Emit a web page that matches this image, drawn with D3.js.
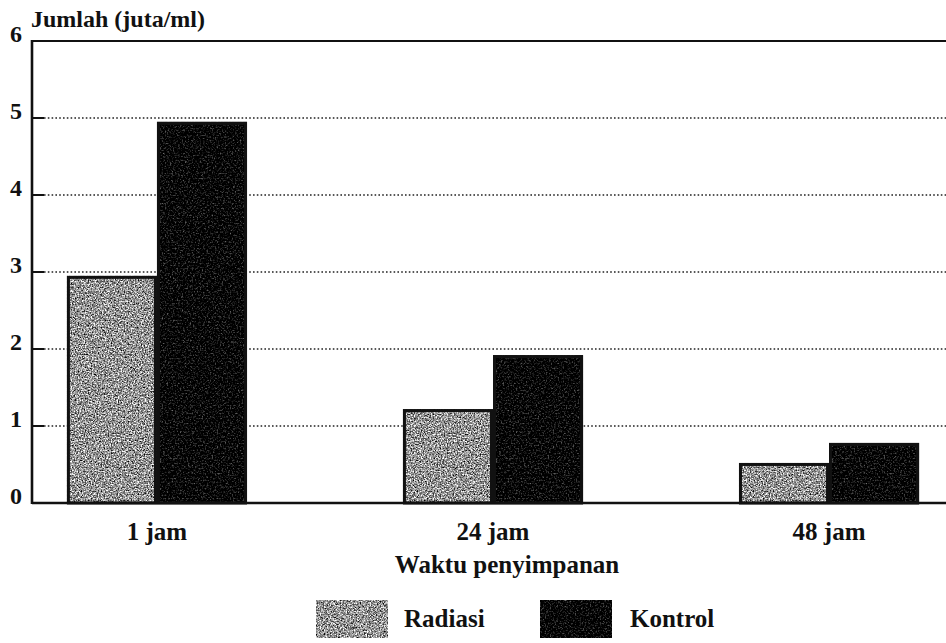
<!DOCTYPE html>
<html>
<head>
<meta charset="utf-8">
<script src="https://cdn.jsdelivr.net/npm/d3@7"></script>
<style>
  body { margin: 0; background: #fff; }
  svg text { font-family: "Liberation Serif", "Times New Roman", serif; fill: #111; }
</style>
</head>
<body>
<svg id="chart" width="946" height="643"></svg>
<script>
const categories = ['1 jam', '24 jam', '48 jam'];
const seriesNames = ['Radiasi', 'Kontrol'];
const radiasi = [2.95, 1.22, 0.52];
const kontrol = [4.95, 1.92, 0.78];
const yTicks = [0, 1, 2, 3, 4, 5, 6];

const margin = {left: 32, right: 0, top: 41, bottom: 140};
const width = 946, height = 643;

const svg = d3.select('#chart');

// grainy fills to look like the scanned print
const defs = svg.append('defs');
function grain(id, slope, intercept, freq) {
    const f = defs.append('filter').attr('id', id)
        .attr('x', 0).attr('y', 0).attr('width', 1).attr('height', 1)
        .attr('color-interpolation-filters', 'sRGB');
    f.append('feTurbulence').attr('type', 'fractalNoise')
        .attr('baseFrequency', freq).attr('numOctaves', 3).attr('seed', 4).attr('result', 'noise');
    f.append('feColorMatrix').attr('in', 'noise').attr('type', 'saturate').attr('values', 0).attr('result', 'gray');
    const ct = f.append('feComponentTransfer').attr('in', 'gray').attr('result', 'tone');
    ['feFuncR', 'feFuncG', 'feFuncB'].forEach(fn =>
        ct.append(fn).attr('type', 'linear').attr('slope', slope).attr('intercept', intercept));
    ct.append('feFuncA').attr('type', 'table').attr('tableValues', '1 1');
    f.append('feComposite').attr('in', 'tone').attr('in2', 'SourceGraphic').attr('operator', 'in');
}
grain('grainLight', 2.4, -0.62, 0.7);
grain('grainDark', 1.4, -0.7, 0.6);

const fills = {Radiasi: 'url(#grainLight)', Kontrol: 'url(#grainDark)'};

const x = d3.scaleBand()
    .domain(categories)
    .range([margin.left + 4, width + 4])
    .paddingInner(0.464)
    .paddingOuter(0.092);

const xSub = d3.scaleBand()
    .domain(seriesNames)
    .range([0, x.bandwidth()]);

const y = d3.scaleLinear()
    .domain([0, 6])
    .range([height - margin.bottom, margin.top]);

// dotted grid lines
svg.selectAll('.grid')
    .data(yTicks.filter(d => d > 0 && d < 6))
    .join('line')
        .classed('grid', true)
        .attr('x1', margin.left + 12)
        .attr('x2', width)
        .attr('y1', d => y(d))
        .attr('y2', d => y(d))
        .style('stroke', '#222')
        .style('stroke-width', 1.6)
        .style('stroke-dasharray', '1.6,2.2');

// short solid tick stubs
svg.selectAll('.stub')
    .data(yTicks.filter(d => d > 0 && d < 6))
    .join('line')
        .classed('stub', true)
        .attr('x1', margin.left)
        .attr('x2', margin.left + 12)
        .attr('y1', d => y(d))
        .attr('y2', d => y(d))
        .style('stroke', '#111')
        .style('stroke-width', 2);

// bars
const rows = categories.map((c, i) => ({cat: c, Radiasi: radiasi[i], Kontrol: kontrol[i]}));

const groups = svg.selectAll('.barGroup')
    .data(rows)
    .join('g')
        .classed('barGroup', true)
        .attr('transform', d => `translate(${x(d.cat)},0)`);

const bars = groups.selectAll('.bar')
    .data(d => seriesNames.map(s => ({series: s, value: d[s]})))
    .join('g')
        .classed('bar', true);

bars.append('rect')
    .attr('x', d => xSub(d.series))
    .attr('y', d => y(d.value))
    .attr('width', xSub.bandwidth())
    .attr('height', d => y(0) - y(d.value))
    .style('fill', '#000')
    .attr('filter', d => fills[d.series]);

bars.append('rect')
    .attr('x', d => xSub(d.series) + 1.5)
    .attr('y', d => y(d.value) + 1.5)
    .attr('width', xSub.bandwidth() - 3)
    .attr('height', d => y(0) - y(d.value) - 1.5)
    .style('fill', 'none')
    .style('stroke', '#111')
    .style('stroke-width', 3);

// axis frame
svg.append('line')
    .attr('x1', margin.left).attr('x2', width)
    .attr('y1', y(6)).attr('y2', y(6))
    .style('stroke', '#111').style('stroke-width', 2.2);
svg.append('line')
    .attr('x1', margin.left).attr('x2', width)
    .attr('y1', y(0)).attr('y2', y(0))
    .style('stroke', '#111').style('stroke-width', 2.6);
svg.append('line')
    .attr('x1', margin.left).attr('x2', margin.left)
    .attr('y1', y(6) - 1).attr('y2', y(0) + 1)
    .style('stroke', '#111').style('stroke-width', 2.6);

// y tick labels
svg.selectAll('.yLabel')
    .data(yTicks)
    .join('text')
        .classed('yLabel', true)
        .attr('x', 22)
        .attr('y', d => y(d) + 1)
        .style('text-anchor', 'end')
        .style('font-size', '24px')
        .style('font-weight', 'bold')
        .text(d => d);

// y title
svg.append('text')
    .attr('x', 31)
    .attr('y', 27)
    .style('font-size', '24px')
    .style('font-weight', 'bold')
    .text('Jumlah (juta/ml)');

// category labels
svg.selectAll('.xLabel')
    .data(categories)
    .join('text')
        .classed('xLabel', true)
        .attr('x', d => x(d) + x.bandwidth() / 2)
        .attr('y', 540)
        .style('text-anchor', 'middle')
        .style('font-size', '25px')
        .style('font-weight', 'bold')
        .text(d => d);

// x title
svg.append('text')
    .attr('x', 507)
    .attr('y', 573)
    .style('text-anchor', 'middle')
    .style('font-size', '25px')
    .style('font-weight', 'bold')
    .text('Waktu penyimpanan');

// legend
const legendX = [316, 540];
const legend = svg.selectAll('.legendItem')
    .data(seriesNames)
    .join('g')
        .classed('legendItem', true)
        .attr('transform', (d, i) => `translate(${legendX[i]},600)`);

legend.append('rect')
    .attr('width', 72)
    .attr('height', 38)
    .style('fill', '#000')
    .attr('filter', d => fills[d]);

legend.append('text')
    .attr('x', d => d === 'Radiasi' ? 88 : 90)
    .attr('y', 27)
    .style('font-size', '25px')
    .style('font-weight', 'bold')
    .text(d => d);
</script>
</body>
</html>
